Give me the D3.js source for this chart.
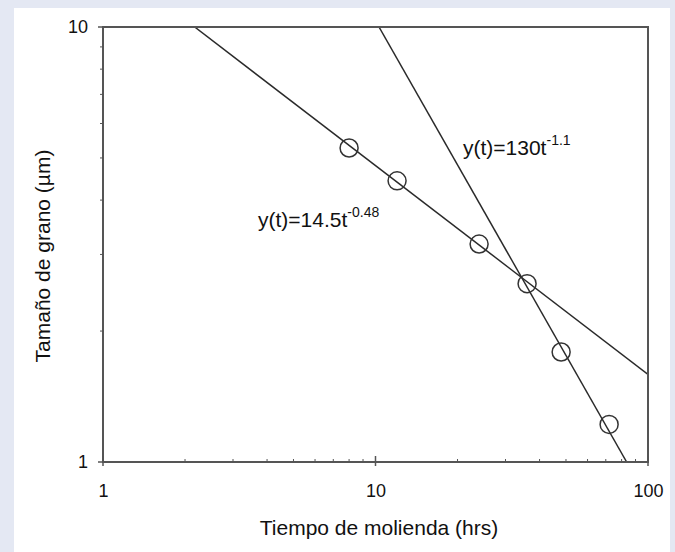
<!DOCTYPE html>
<html>
<head>
<meta charset="utf-8">
<script src="https://cdn.jsdelivr.net/npm/d3@7"></script>
<style>
  html, body { margin: 0; padding: 0; background: #e4e8f3; }
  svg { display: block; }
</style>
</head>
<body>
<script>
// Data
const times = [8, 12, 24, 36, 48, 72];
const grainSizes = [5.27, 4.43, 3.17, 2.57, 1.79, 1.22];
const fit1Points = [[2.17, 10], [100, 1.59]];   // y(t)=14.5t^-0.48
const fit2Points = [[10.3, 10], [83.5, 1]];     // y(t)=130t^-1.1
const xTickValues = [1, 10, 100];
const yTickValues = [1, 10];
const xMinor = [2,3,4,5,6,7,8,9,20,30,40,50,60,70,80,90];
const yMinor = [2,3,4,5,6,7,8,9];

const W = 675, H = 552;
const svg = d3.select("body").append("svg").attr("width", W).attr("height", H);
svg.append("rect").attr("x", 14).attr("y", 8).attr("width", 656).attr("height", H - 8).attr("fill", "#ffffff");

const L = 103, R = 648, T = 27, B = 462;
const x = d3.scaleLog().domain([1, 100]).range([L, R]);
const y = d3.scaleLog().domain([1, 10]).range([B, T]);
const font = "'Liberation Sans', Arial, sans-serif";

svg.append("clipPath").attr("id", "clip").append("rect")
  .attr("x", L).attr("y", T).attr("width", R - L).attr("height", B - T);

// fit lines
const line = d3.line().x(d => x(d[0])).y(d => y(d[1]));
const g = svg.append("g").attr("clip-path", "url(#clip)");
[fit1Points, fit2Points].forEach(p => {
  g.append("path").attr("d", line(p)).attr("fill", "none").attr("stroke", "#2a2a2a").attr("stroke-width", 1.5);
});

// points
svg.append("g").selectAll("circle").data(times).join("circle")
  .attr("cx", d => x(d)).attr("cy", (d, i) => y(grainSizes[i])).attr("r", 9)
  .attr("fill", "none").attr("stroke", "#333").attr("stroke-width", 1.5);

// frame
svg.append("rect").attr("x", L).attr("y", T).attr("width", R - L).attr("height", B - T)
  .attr("fill", "none").attr("stroke", "#555").attr("stroke-width", 2);

// axes
const xAxis = d3.axisBottom(x).tickValues(xTickValues).tickFormat(d3.format("d")).tickSize(0).tickPadding(22);
const gx = svg.append("g").attr("transform", `translate(0,${B})`).call(xAxis);
gx.select(".domain").remove();
gx.selectAll("text").attr("font-family", font).attr("font-size", 18).attr("fill", "#111");

const yAxis = d3.axisLeft(y).tickValues(yTickValues).tickFormat(d3.format("d")).tickSize(0).tickPadding(15);
const gy = svg.append("g").attr("transform", `translate(${L},0)`).call(yAxis);
gy.select(".domain").remove();
gy.selectAll("text").attr("font-family", font).attr("font-size", 18).attr("fill", "#111");

// tick marks
const tk = svg.append("g").attr("stroke", "#555");
xTickValues.forEach(v => tk.append("line").attr("x1", x(v)).attr("x2", x(v)).attr("y1", B - 6).attr("y2", B + 4).attr("stroke-width", 1.5));
xMinor.forEach(v => tk.append("line").attr("x1", x(v)).attr("x2", x(v)).attr("y1", B - 3).attr("y2", B).attr("stroke-width", 1));
yTickValues.forEach(v => tk.append("line").attr("x1", L - 5).attr("x2", L + 4).attr("y1", y(v)).attr("y2", y(v)).attr("stroke-width", 1.5));
yMinor.forEach(v => tk.append("line").attr("x1", L - 3).attr("x2", L).attr("y1", y(v)).attr("y2", y(v)).attr("stroke-width", 1));

// titles
svg.append("text").attr("x", 379).attr("y", 535).attr("text-anchor", "middle")
  .attr("font-family", font).attr("font-size", 21).attr("fill", "#111").text("Tiempo de molienda (hrs)");
svg.append("text").attr("transform", `translate(50,256) rotate(-90)`).attr("text-anchor", "middle")
  .attr("font-family", font).attr("font-size", 21).attr("fill", "#111").text("Tamaño de grano (µm)");

// annotations
function ann(px, py, base, exp) {
  const t = svg.append("text").attr("x", px).attr("y", py).attr("font-family", font).attr("font-size", 21).attr("fill", "#111");
  t.append("tspan").text(base);
  t.append("tspan").attr("dy", -10).attr("font-size", 14).text(exp);
}
ann(258, 227, "y(t)=14.5t", "-0.48");
ann(463, 155, "y(t)=130t", "-1.1");
</script>
</body>
</html>
